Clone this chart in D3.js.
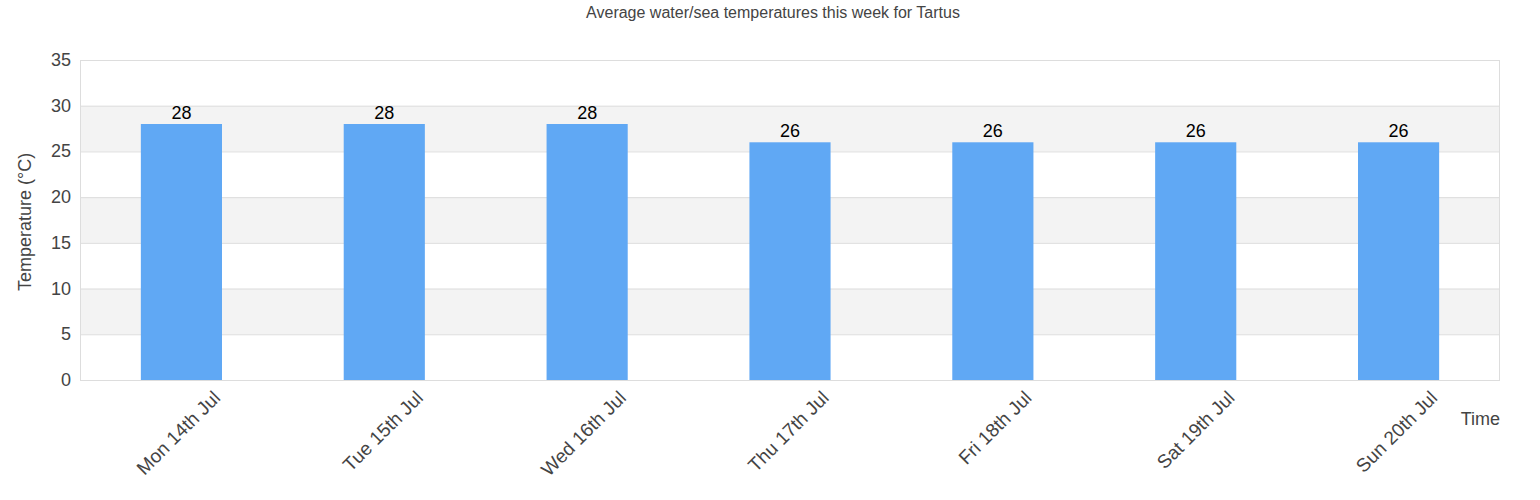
<!DOCTYPE html>
<html><head><meta charset="utf-8">
<script src="https://cdn.jsdelivr.net/npm/d3@7"></script>
<style>body{margin:0;background:#fff;font-family:"Liberation Sans",Arial,sans-serif}</style>
</head><body>
<svg id="c" width="1540" height="500"></svg>
<script>
const categories = ["Mon 14th Jul","Tue 15th Jul","Wed 16th Jul","Thu 17th Jul","Fri 18th Jul","Sat 19th Jul","Sun 20th Jul"];
const temps = [28,28,28,26,26,26,26];
const yTicks = [0,5,10,15,20,25,30,35];
const title = "Average water/sea temperatures this week for Tartus";

const svg = d3.select("#c");
const L=80,R=1500,T=60,B=380;
const x = d3.scaleBand().domain(categories).range([L,R]).paddingInner(0.6).paddingOuter(0.3);
const y = d3.scaleLinear().domain([0,35]).range([B,T]);

for (let i=0;i<yTicks.length-1;i++){
  if (i%2===1) svg.append("rect").attr("x",L).attr("width",R-L).attr("y",y(yTicks[i+1])).attr("height",y(yTicks[i])-y(yTicks[i+1])).attr("fill","#f3f3f3");
}
svg.append("g").selectAll("line").data(yTicks).join("line")
  .attr("x1",L).attr("x2",R).attr("y1",d=>y(d)+0.5).attr("y2",d=>y(d)+0.5).attr("stroke","#dddddd");
svg.append("rect").attr("x",L+0.5).attr("y",T+0.5).attr("width",R-L-1).attr("height",B-T).attr("fill","none").attr("stroke","#dddddd");

svg.append("g").selectAll("rect").data(temps).join("rect")
  .attr("x",(d,i)=>x(categories[i])).attr("width",x.bandwidth())
  .attr("y",d=>y(d)).attr("height",d=>B-y(d)).attr("fill","#60a8f4");

svg.append("g").selectAll("text").data(temps).join("text")
  .attr("x",(d,i)=>x(categories[i])+x.bandwidth()/2).attr("y",d=>y(d)-5)
  .attr("text-anchor","middle").attr("font-size",18).attr("fill","#000").text(d=>d);

svg.append("g").selectAll("text").data(yTicks).join("text")
  .attr("x",71).attr("y",d=>y(d)+6).attr("text-anchor","end").attr("font-size",18).attr("fill","#444").text(d=>d);

svg.append("g").selectAll("text").data(categories).join("text")
  .attr("transform",d=>`translate(${x(d)+x.bandwidth()/2+40},${399}) rotate(-45)`)
  .attr("text-anchor","end").attr("font-size",19).attr("fill","#444").text(d=>d);

svg.append("text").attr("x",773).attr("y",18).attr("text-anchor","middle").attr("font-size",16).attr("fill","#444").text(title);
svg.append("text").attr("transform","translate(31,222) rotate(-90)").attr("text-anchor","middle").attr("font-size",18).attr("fill","#444").text("Temperature (°C)");
svg.append("text").attr("x",1500).attr("y",425).attr("text-anchor","end").attr("font-size",18).attr("fill","#444").text("Time");
</script>
</body></html>
